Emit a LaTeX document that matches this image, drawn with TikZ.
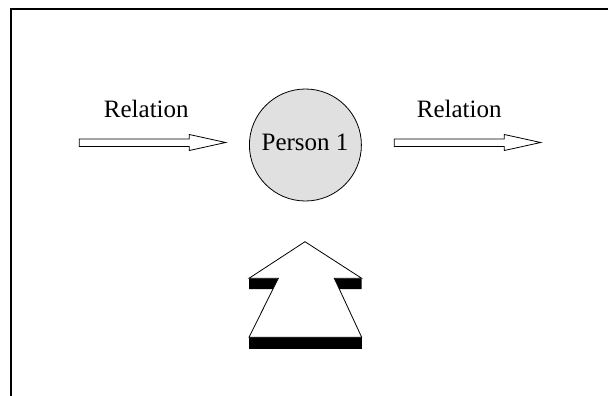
\documentclass[tikz,border=0pt]{standalone}
\usepackage{fontspec}
\setmainfont{Liberation Serif}
\definecolor{persongray}{RGB}{224,224,224}
\tikzset{
  frameline/.style={line width=2pt},
  outline/.style={draw=black, line width=0.8pt, fill=white, line join=miter},
  blackbar/.style={fill=black, draw=none},
  lbl/.style={font=\fontsize{25}{30}\selectfont, inner sep=0pt, anchor=base},
  personnode/.style={circle, draw=black, line width=0.8pt, fill=persongray, minimum size=112pt, inner sep=0pt}
}
\begin{document}
\begin{tikzpicture}[x=1pt,y=-1pt]
\useasboundingbox (0,0) rectangle (608,396);
% frame (top and left only)
\draw[frameline] (11.3,396) -- (11.3,9) -- (608,9);

% person node
\node[personnode] (p) at (305.4,145) {};
\node[lbl] (ptext) at (305,150) {Person 1};

% labels
\node[lbl] (rl) at (146.3,117.3) {Relation};
\node[lbl] (rr) at (459.2,117.3) {Relation};

% left hollow arrow
\draw[outline] (79.3,139) -- (189.3,139) -- (189.3,134.5) -- (225.7,142.5)
  -- (189.3,150.5) -- (189.3,146.5) -- (79.3,146.5) -- cycle;
% right hollow arrow
\draw[outline] (394.3,139) -- (504.3,139) -- (504.3,134.5) -- (540.7,142.5)
  -- (504.3,150.5) -- (504.3,146.5) -- (394.3,146.5) -- cycle;

% big upward arrow: shadows
\fill[blackbar] (249,278.3) -- (278.3,278.3) -- (273.3,289) -- (249,289) -- cycle;
\fill[blackbar] (334.3,278.3) -- (361.7,278.3) -- (361.7,289) -- (339.3,289) -- cycle;
\fill[blackbar] (249,337.3) rectangle (361.7,349.3);
% big upward arrow outline
\draw[outline] (249,278.3) -- (305,241.7) -- (361.7,278.3) -- (334.3,278.3)
  -- (361.7,337.3) -- (249,337.3) -- (278.3,278.3) -- cycle;
\end{tikzpicture}
\end{document}
